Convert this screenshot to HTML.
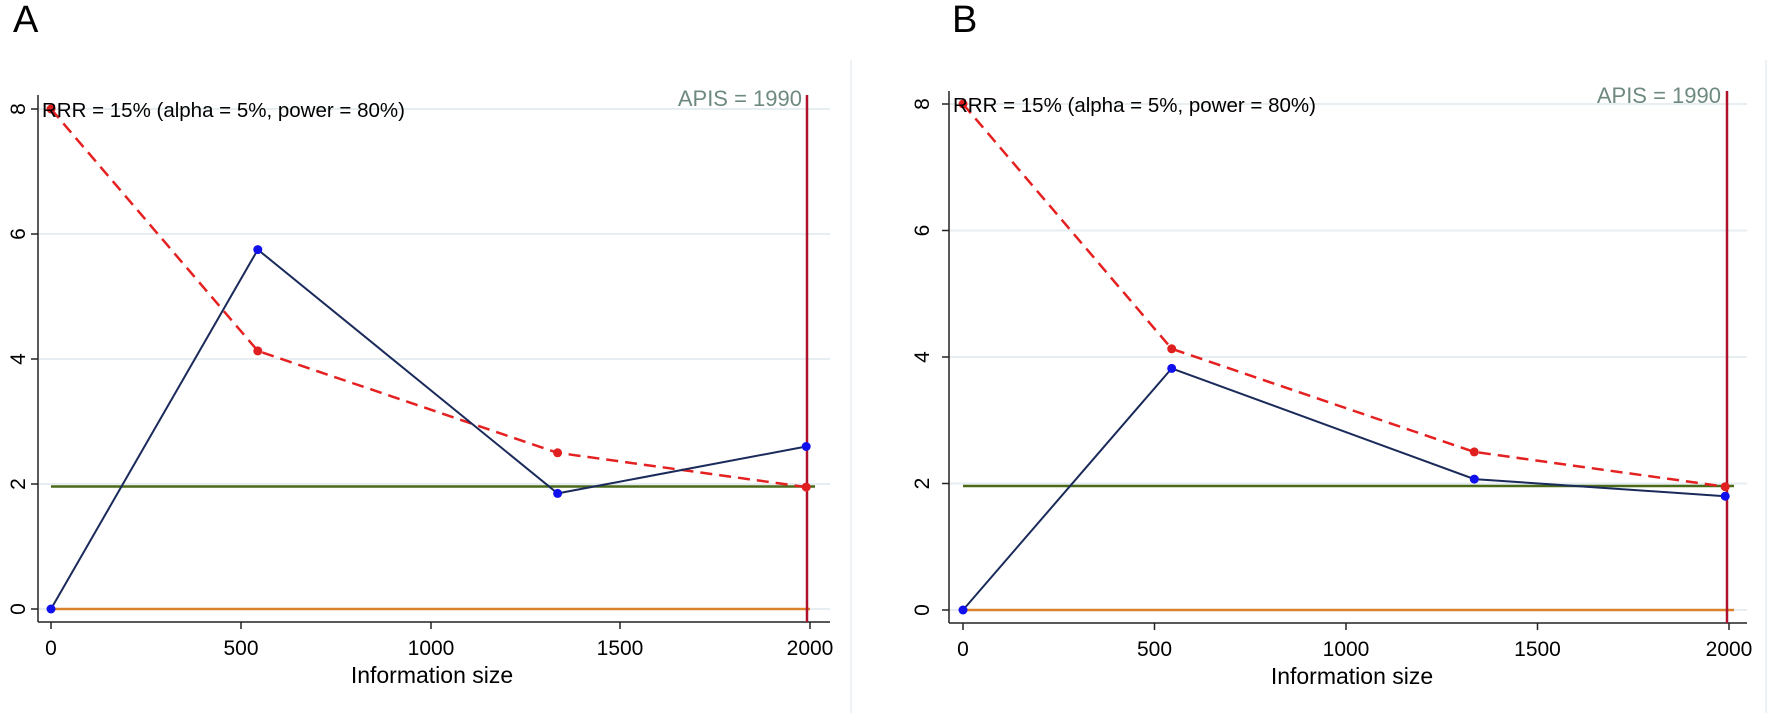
<!DOCTYPE html>
<html><head><style>body{margin:0;background:#fff}svg{display:block}text{font-family:"Liberation Sans",sans-serif}</style></head><body>
<svg width="1772" height="713" viewBox="0 0 1772 713">
<rect width="1772" height="713" fill="#fff"/>
<line x1="851" y1="60" x2="851" y2="713" stroke="#eef2f4" stroke-width="2"/>
<line x1="1766" y1="60" x2="1766" y2="713" stroke="#eef2f4" stroke-width="2"/>
<text x="13" y="32" font-size="38">A</text>
<text x="952" y="32" font-size="38">B</text>
<!-- Panel A -->
<g stroke="#e6eef2" stroke-width="2">
<line x1="38" y1="109" x2="830" y2="109"/><line x1="38" y1="234" x2="830" y2="234"/><line x1="38" y1="359" x2="830" y2="359"/><line x1="38" y1="484" x2="830" y2="484"/><line x1="38" y1="609" x2="830" y2="609"/>
</g>
<g stroke="#222" stroke-width="1.5">
<line x1="38" y1="95" x2="38" y2="622"/><line x1="38" y1="622" x2="830" y2="622"/>
<line x1="31" y1="109" x2="38" y2="109"/><line x1="31" y1="234" x2="38" y2="234"/><line x1="31" y1="359" x2="38" y2="359"/><line x1="31" y1="484" x2="38" y2="484"/><line x1="31" y1="609" x2="38" y2="609"/>
<line x1="51" y1="622" x2="51" y2="629"/><line x1="241" y1="622" x2="241" y2="629"/><line x1="431" y1="622" x2="431" y2="629"/><line x1="620" y1="622" x2="620" y2="629"/><line x1="810" y1="622" x2="810" y2="629"/>
</g>
<g font-size="21" text-anchor="middle">
<text transform="translate(18,109) rotate(-90)" dy="7">8</text>
<text transform="translate(18,234) rotate(-90)" dy="7">6</text>
<text transform="translate(18,359) rotate(-90)" dy="7">4</text>
<text transform="translate(18,484) rotate(-90)" dy="7">2</text>
<text transform="translate(18,609) rotate(-90)" dy="7">0</text>
<text x="51" y="655">0</text><text x="241" y="655">500</text><text x="431" y="655">1000</text><text x="620" y="655">1500</text><text x="810" y="655">2000</text>
<text x="432" y="683" font-size="23">Information size</text>
</g>
<line x1="51" y1="609" x2="810" y2="609" stroke="#d9822b" stroke-width="2.5"/>
<line x1="51" y1="486.5" x2="815" y2="486.5" stroke="#4a6a1a" stroke-width="2.5"/>
<line x1="807" y1="95" x2="807" y2="622" stroke="#b0102a" stroke-width="2.5"/>
<polyline points="51,109 257.8,350.9 557.6,452.8 806.2,487.1" fill="none" stroke="#e52020" stroke-width="2.5" stroke-dasharray="12,7"/>
<polyline points="51,609 257.8,249.6 557.6,493.4 806.2,446.5" fill="none" stroke="#1a2a5a" stroke-width="2"/>
<g fill="#e02020"><circle cx="51" cy="109" r="4.5"/><circle cx="257.8" cy="350.9" r="4.5"/><circle cx="557.6" cy="452.8" r="4.5"/><circle cx="806.2" cy="487.1" r="4.5"/></g>
<g fill="#1010ee"><circle cx="51" cy="609" r="4.5"/><circle cx="257.8" cy="249.6" r="4.5"/><circle cx="557.6" cy="493.4" r="4.5"/><circle cx="806.2" cy="446.5" r="4.5"/></g>
<text x="42" y="117" font-size="20.5">RRR = 15% (alpha = 5%, power = 80%)</text>
<text x="802" y="106" font-size="22" fill="#6e8a80" text-anchor="end">APIS = 1990</text>
<!-- Panel B -->
<g stroke="#e6eef2" stroke-width="2">
<line x1="949" y1="104" x2="1747" y2="104"/><line x1="949" y1="230.5" x2="1747" y2="230.5"/><line x1="949" y1="357" x2="1747" y2="357"/><line x1="949" y1="483.5" x2="1747" y2="483.5"/><line x1="949" y1="610" x2="1747" y2="610"/>
</g>
<g stroke="#222" stroke-width="1.5">
<line x1="949" y1="91" x2="949" y2="623"/><line x1="949" y1="623" x2="1747" y2="623"/>
<line x1="942" y1="104" x2="949" y2="104"/><line x1="942" y1="230.5" x2="949" y2="230.5"/><line x1="942" y1="357" x2="949" y2="357"/><line x1="942" y1="483.5" x2="949" y2="483.5"/><line x1="942" y1="610" x2="949" y2="610"/>
<line x1="963" y1="623" x2="963" y2="630"/><line x1="1154.5" y1="623" x2="1154.5" y2="630"/><line x1="1346" y1="623" x2="1346" y2="630"/><line x1="1537.5" y1="623" x2="1537.5" y2="630"/><line x1="1729" y1="623" x2="1729" y2="630"/>
</g>
<g font-size="21" text-anchor="middle">
<text transform="translate(922,104) rotate(-90)" dy="7">8</text>
<text transform="translate(922,230.5) rotate(-90)" dy="7">6</text>
<text transform="translate(922,357) rotate(-90)" dy="7">4</text>
<text transform="translate(922,483.5) rotate(-90)" dy="7">2</text>
<text transform="translate(922,610) rotate(-90)" dy="7">0</text>
<text x="963" y="656">0</text><text x="1154.5" y="656">500</text><text x="1346" y="656">1000</text><text x="1537.5" y="656">1500</text><text x="1729" y="656">2000</text>
<text x="1352" y="684" font-size="23">Information size</text>
</g>
<line x1="963" y1="610" x2="1734" y2="610" stroke="#d9822b" stroke-width="2.5"/>
<line x1="963" y1="486" x2="1734" y2="486" stroke="#4a6a1a" stroke-width="2.5"/>
<line x1="1727" y1="91" x2="1727" y2="623" stroke="#b0102a" stroke-width="2.5"/>
<polyline points="963,104 1171.7,348.8 1474.3,451.9 1725.2,486.7" fill="none" stroke="#e52020" stroke-width="2.5" stroke-dasharray="12,7"/>
<polyline points="963,610 1171.7,368.4 1474.3,479.1 1725.2,496.2" fill="none" stroke="#1a2a5a" stroke-width="2"/>
<g fill="#e02020"><circle cx="963" cy="104" r="4.5"/><circle cx="1171.7" cy="348.8" r="4.5"/><circle cx="1474.3" cy="451.9" r="4.5"/><circle cx="1725.2" cy="486.7" r="4.5"/></g>
<g fill="#1010ee"><circle cx="963" cy="610" r="4.5"/><circle cx="1171.7" cy="368.4" r="4.5"/><circle cx="1474.3" cy="479.1" r="4.5"/><circle cx="1725.2" cy="496.2" r="4.5"/></g>
<text x="953" y="112" font-size="20.5">RRR = 15% (alpha = 5%, power = 80%)</text>
<text x="1721" y="103" font-size="22" fill="#6e8a80" text-anchor="end">APIS = 1990</text>
</svg>
</body></html>
